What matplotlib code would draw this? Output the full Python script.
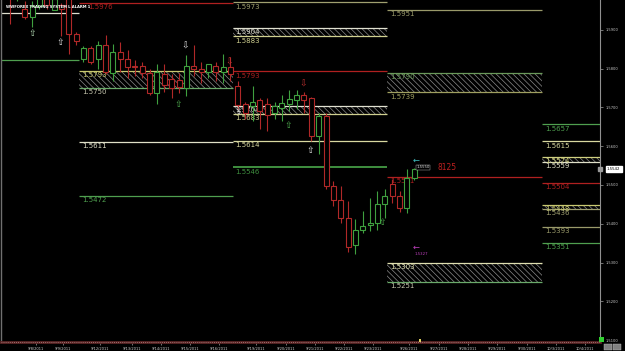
import matplotlib
matplotlib.use("Agg")
import matplotlib.pyplot as plt
from matplotlib.patches import Rectangle

plt.rcParams['hatch.linewidth'] = 0.5

# ---- candles (6H bars) ----
opens  = [1.6000, 1.5985, 1.5954, 1.5934, 1.5962, 1.5985, 1.5952, 1.5965, 1.5985, 1.5890,
          1.5826, 1.5852, 1.5826, 1.5862, 1.5788, 1.5844, 1.5826, 1.5808, 1.5806, 1.5788,
          1.5736, 1.5785, 1.5772, 1.5770, 1.5749, 1.5806, 1.5800, 1.5792, 1.5806, 1.5792,
          1.5803, 1.5754, 1.5708, 1.5703, 1.5718, 1.5710, 1.5685, 1.5698, 1.5708, 1.5718,
          1.5731, 1.5723, 1.5626, 1.5677, 1.5498, 1.5460, 1.5416, 1.5344, 1.5385, 1.5397,
          1.5403, 1.5452, 1.5503, 1.5472, 1.5441, 1.5518]
highs  = [1.6010, 1.6010, 1.5975, 1.5975, 1.6000, 1.5995, 1.5990, 1.5970, 1.5995, 1.5895,
          1.5859, 1.5859, 1.5870, 1.5888, 1.5864, 1.5869, 1.5849, 1.5823, 1.5818, 1.5798,
          1.5813, 1.5811, 1.5787, 1.5790, 1.5836, 1.5862, 1.5818, 1.5813, 1.5818, 1.5839,
          1.5831, 1.5767, 1.5715, 1.5754, 1.5723, 1.5723, 1.5715, 1.5731, 1.5746, 1.5746,
          1.5741, 1.5728, 1.5685, 1.5685, 1.5510, 1.5498, 1.5459, 1.5413, 1.5433, 1.5467,
          1.5485, 1.5490, 1.5516, 1.5485, 1.5541, 1.5544]
lows   = [1.5916, 1.5975, 1.5928, 1.5908, 1.5955, 1.5955, 1.5950, 1.5885, 1.5839, 1.5862,
          1.5816, 1.5813, 1.5798, 1.5787, 1.5767, 1.5792, 1.5775, 1.5780, 1.5775, 1.5731,
          1.5708, 1.5741, 1.5724, 1.5737, 1.5729, 1.5780, 1.5762, 1.5777, 1.5767, 1.5762,
          1.5767, 1.5696, 1.5669, 1.5664, 1.5644, 1.5639, 1.5669, 1.5664, 1.5690, 1.5695,
          1.5685, 1.5613, 1.5580, 1.5490, 1.5446, 1.5401, 1.5328, 1.5323, 1.5377, 1.5382,
          1.5385, 1.5416, 1.5454, 1.5431, 1.5428, 1.5513]
closes = [1.5985, 1.6000, 1.5934, 1.5962, 1.5985, 1.5965, 1.5980, 1.5955, 1.5890, 1.5872,
          1.5852, 1.5818, 1.5862, 1.5792, 1.5844, 1.5826, 1.5803, 1.5803, 1.5788, 1.5736,
          1.5792, 1.5759, 1.5749, 1.5752, 1.5806, 1.5798, 1.5792, 1.5811, 1.5792, 1.5803,
          1.5787, 1.5706, 1.5685, 1.5715, 1.5690, 1.5680, 1.5703, 1.5711, 1.5721, 1.5731,
          1.5718, 1.5626, 1.5677, 1.5498, 1.5460, 1.5416, 1.5341, 1.5385, 1.5395, 1.5402,
          1.5452, 1.5472, 1.5472, 1.5441, 1.5518, 1.5541]

# ---- weekly level segments ----
seg_edges = [-1.4, 9.4, 30.3, 51.3, 72.4, 80.3]

line_seg   = [0, 0, 1, 1, 1, 2, 2, 2, 2, 3, 3, 4, 4, 4, 4, 4]
line_price = [1.5944, 1.5821, 1.5970, 1.5611, 1.5472, 1.5971, 1.5793, 1.5614, 1.5546,
              1.5951, 1.5521, 1.5656, 1.5613, 1.5505, 1.5392, 1.5351]
line_text  = ["", "", "1.5976", "1.5611", "1.5472", "1.5973", "1.5793", "1.5614", "1.5546",
              "1.5951", "1.5521", "1.5657", "1.5615", "1.5504", "1.5393", "1.5351"]
line_color = ["#e0e0d0", "#4f9f4f", "#b02020", "#e0e0c8", "#4f9f4f", "#a0a070", "#b02020",
              "#d8d8a0", "#3f8f3f", "#9a9a6a", "#b02020", "#4f9f4f", "#d8d8a0", "#b02020",
              "#9a9a6a", "#4f9f4f"]

zone_seg       = [1, 2, 2, 3, 3, 4, 4]
zone_top       = [1.5793, 1.5904, 1.5704, 1.5790, 1.5300, 1.5572, 1.5449]
zone_bot       = [1.5750, 1.5883, 1.5683, 1.5739, 1.5250, 1.5559, 1.5438]
zone_top_text  = ["1.5793", "1.5904", "1.5704", "1.5790", "1.5303", "1.5574", "1.5448"]
zone_bot_text  = ["1.5750", "1.5883", "1.5683", "1.5739", "1.5251", "1.5559", "1.5436"]
zone_top_color = ["#c8c86e", "#e0e0d0", "#e0e0d0", "#6a9a5a", "#e0e0b0", "#d0d080", "#c8c870"]
zone_bot_color = ["#6aaa6a", "#d0d090", "#d0d090", "#a0a060", "#6aaa6a", "#e0e0c8", "#a0a070"]

# ---- signal arrows ----
arrow_idx   = [3, 6.9, 23.9, 22.9, 29.8, 31.0, 39.9, 37.8, 40.8, 50.7]
arrow_price = [1.5890, 1.5867, 1.5857, 1.5708, 1.5818, 1.5690, 1.5759, 1.5654, 1.5590, 1.5403]
arrow_up    = [True, True, False, True, False, True, False, True, True, True]
arrow_color = ["#b8e0b8", "#e8e8e8", "#e8e8e8", "#50b050", "#c03030", "#e8e8e8", "#c03030",
               "#50b050", "#e8e8e8", "#50b050"]

# ---- axes labels ----
date_pos    = [3.5, 7.2, 12.2, 16.6, 20.5, 24.5, 28.4, 33.5, 37.6, 41.5, 45.4, 49.4, 54.3,
               58.4, 62.3, 66.3, 70.3, 74.3, 78.2]
date_labels = ["9/8/2011", "9/9/2011", "9/12/2011", "9/13/2011", "9/14/2011", "9/15/2011",
               "9/16/2011", "9/19/2011", "9/20/2011", "9/21/2011", "9/22/2011", "9/23/2011",
               "9/26/2011", "9/27/2011", "9/28/2011", "9/29/2011", "9/30/2011", "10/3/2011",
               "10/4/2011"]
price_ticks = [1.51, 1.52, 1.53, 1.54, 1.55, 1.56, 1.57, 1.58, 1.59]
last_price = 1.5542

fig = plt.figure(figsize=(6.25, 3.51), dpi=100, facecolor="black")
ax = fig.add_axes([1 / 625, 9 / 351, 599 / 625, 342 / 351])
ax.set_facecolor("black")
ax.set_xlim(-1.22, 80.27)
ax.set_ylim(1.5095, 1.5977)

LBL = 5.0

# zones
for s, t, b, tt, bt, tc, bc in zip(zone_seg, zone_top, zone_bot, zone_top_text,
                                   zone_bot_text, zone_top_color, zone_bot_color):
    x0, x1 = seg_edges[s], seg_edges[s + 1]
    ax.add_patch(Rectangle((x0, b), x1 - x0, t - b, facecolor="black",
                           edgecolor="#8a8a8a", hatch="\\\\\\\\\\\\", lw=0, zorder=1))
    ax.hlines(t, x0, x1, color=tc, lw=0.9, zorder=2)
    ax.hlines(b, x0, x1, color=bc, lw=0.9, zorder=2)
    ax.annotate(tt, (x0, t), xytext=(2, -0.8), textcoords="offset points",
                color=tc, fontsize=LBL, va="top", ha="left", zorder=3)
    ax.annotate(bt, (x0, b), xytext=(2, -1), textcoords="offset points",
                color=bc if bc != "#6aaa6a" else "#c8c8b0", fontsize=LBL,
                va="top", ha="left", zorder=3)

# lines
for s, p, t, c in zip(line_seg, line_price, line_text, line_color):
    x0, x1 = seg_edges[s], seg_edges[s + 1]
    ax.hlines(p, x0, x1, color=c, lw=1.4 if p == 1.5546 else 0.9, zorder=2)
    if t:
        dx = 6.5 if s == 1 and p > 1.59 else 2
        ax.annotate(t, (x0, p), xytext=(dx, -1), textcoords="offset points",
                    color=c, fontsize=LBL, va="top", ha="left", zorder=3)

# candles
up_c, dn_c = "#3fa03f", "#b02828"
bw = 0.68
for i, (o, h, l, c) in enumerate(zip(opens, highs, lows, closes)):
    col = up_c if c >= o else dn_c
    top, bot = max(o, c), min(o, c)
    ax.vlines(i, top, h, color=col, lw=0.8, zorder=4)
    ax.vlines(i, l, bot, color=col, lw=0.8, zorder=4)
    ax.add_patch(Rectangle((i - bw / 2, bot), bw, max(top - bot, 0.00005),
                           facecolor="black", edgecolor=col, lw=0.8, zorder=5))

# arrows
for xi, p, up, c in zip(arrow_idx, arrow_price, arrow_up, arrow_color):
    ax.text(xi, p, "\u21e7" if up else "\u21e9", color=c, fontsize=6.5,
            ha="center", va="center", zorder=6)

# misc markers
ax.text(55.3, 1.5563, "\u2190", color="#40c0c0", fontsize=6, ha="center", va="center", zorder=6)
ax.text(55.3, 1.5546, "1.5550", color="#e0e0e0", fontsize=2.8, ha="left", va="center",
        zorder=6, bbox=dict(boxstyle="square,pad=0.15", fc="black", ec="#c0c0c0", lw=0.3))
ax.text(58.2, 1.5546, "8125", color="#c02020", fontsize=5.5, ha="left", va="center", zorder=6)
ax.text(55.3, 1.5340, "\u2190", color="#c040c0", fontsize=6, ha="center", va="center", zorder=6)
ax.text(55.1, 1.5322, "1.5327", color="#c040c0", fontsize=2.8, ha="left", va="center", zorder=6)

ax.text(-0.6, 1.5958, "WWFOREX TRADING SYSTEM L ALARM 1", color="white", fontsize=2.7,
        fontweight="bold", ha="left", va="center", zorder=7)

# axes styling
ax.spines["top"].set_visible(False)
ax.spines["left"].set_color("#707070")
ax.spines["left"].set_linewidth(1.0)
ax.spines["right"].set_color("#909090")
ax.spines["right"].set_linewidth(0.8)
ax.spines["bottom"].set_color("#5a2424")
ax.spines["bottom"].set_linewidth(2.0)
ax.axhline(1.5095, color="#b08888", lw=0.6, ls=(0, (1, 1.5)), zorder=8, clip_on=False)

ax.yaxis.tick_right()
ax.set_yticks(price_ticks)
ax.set_yticklabels([f"{v:.4f}" for v in price_ticks])
ax.tick_params(axis="y", colors="#a0a0a0", labelcolor="#c8c8c8", labelsize=2.6,
               length=2, width=0.5, pad=2)
ax.set_xticks(date_pos)
ax.set_xticklabels(date_labels)
ax.tick_params(axis="x", colors="#a0a0a0", labelcolor="#d0d0d0", labelsize=2.6,
               length=2, width=0.5, pad=1.5)

ax.annotate(f"{last_price:.4f}", xy=(1.0, last_price), xycoords=("axes fraction", "data"),
            xytext=(5, 0), textcoords="offset points", fontsize=2.8, color="black",
            va="center", ha="left",
            bbox=dict(boxstyle="square,pad=0.3", fc="white", ec="white"))
ax.plot([1.0], [last_price], marker="s", ms=3, color="#9a9a9a", transform=ax.get_yaxis_transform(),
        clip_on=False, zorder=9)

# small markers at bottom
fig.patches.append(Rectangle((599 / 625, 9 / 351), 5 / 625, 5 / 351, transform=fig.transFigure,
                             facecolor="#30d030", edgecolor="none"))
fig.patches.append(Rectangle((419 / 625, 9 / 351), 2 / 625, 3 / 351, transform=fig.transFigure,
                             facecolor="#e0d060", edgecolor="none"))
fig.patches.append(Rectangle((604 / 625, 1 / 351), 8 / 625, 6 / 351, transform=fig.transFigure,
                             facecolor="#808080", edgecolor="#c0c0c0", lw=0.3))
fig.patches.append(Rectangle((613 / 625, 1 / 351), 8 / 625, 6 / 351, transform=fig.transFigure,
                             facecolor="#808080", edgecolor="#c0c0c0", lw=0.3))

fig.savefig("out.png", dpi=100, facecolor="black")
